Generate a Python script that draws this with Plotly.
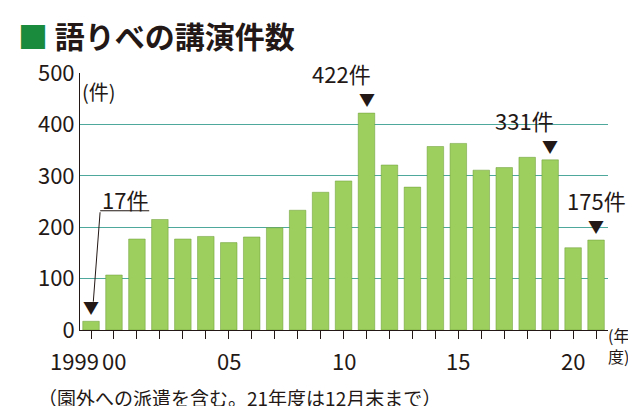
import plotly.graph_objects as go

years = list(range(1999, 2022))
counts = [17, 107, 177, 215, 177, 182, 170, 181, 199, 233, 268, 290, 422,
          321, 278, 357, 363, 311, 316, 336, 331, 160, 175]
xlabels = {1999: "1999", 2000: "00", 2005: "05", 2010: "10", 2015: "15", 2020: "20"}
callouts = {2011: "422件", 2019: "331件", 2021: "175件"}

font = "Noto Sans CJK JP"
ink = "#231815"

fig = go.Figure()
fig.add_trace(go.Bar(
    x=years, y=counts, width=0.72,
    marker=dict(color="#9ccf5e", line=dict(color="#6a9a35", width=0.5)),
))

ann = []
for yr, lab in xlabels.items():
    ann.append(dict(x=yr, y=0, yref="y", text=lab, showarrow=False,
                    xanchor="right" if yr == 1999 else "center",
                    xshift=10 if yr == 1999 else 0,
                    yshift=-30, font=dict(size=22, color=ink)))
for yr, lab in callouts.items():
    v = counts[years.index(yr)]
    ann.append(dict(x=yr, y=v, text="▼", showarrow=False, yanchor="bottom",
                    yshift=0, font=dict(size=16, color=ink)))
    ann.append(dict(x=yr, y=v, text=lab, showarrow=False, yanchor="bottom",
                    xanchor="right" if yr != 2021 else "center",
                    xshift=6 if yr != 2021 else 0,
                    yshift=22, font=dict(size=22, color=ink)))
ann.append(dict(x=1999, y=counts[0], text="▼", showarrow=False, yanchor="bottom",
                yshift=0, font=dict(size=16, color=ink)))
ann.append(dict(x=1999.4, y=255, text="17件", showarrow=False, xanchor="left",
                font=dict(size=22, color=ink)))
ann.append(dict(x=1999.4, y=232, ax=2001.6, ay=232, axref="x", ayref="y",
                text="", showarrow=True, arrowhead=0, arrowwidth=1, arrowcolor=ink))
ann.append(dict(x=1999.1, y=55, ax=1999.4, ay=232, axref="x", ayref="y",
                text="", showarrow=True, arrowhead=0, arrowwidth=1, arrowcolor=ink))
ann.append(dict(x=0.0, y=1.0, xref="paper", yref="paper", text="(件)",
                showarrow=False, xanchor="left", yanchor="top", yshift=-2,
                font=dict(size=20, color=ink)))
ann.append(dict(x=1.0, y=0.0, xref="paper", yref="paper", text="(年<br>度)",
                showarrow=False, xanchor="left", yanchor="bottom", xshift=-2, yshift=-40,
                font=dict(size=16, color=ink)))
ann.append(dict(x=0.0, y=1.0, xref="paper", yref="paper",
                text="<span style='color:#1a8a3c'>■</span> <b>語りべの講演件数</b>",
                showarrow=False, xanchor="left", yanchor="top", xshift=-64, yshift=62,
                font=dict(size=30, color=ink)))
ann.append(dict(x=0.0, y=0.0, xref="paper", yref="paper",
                text="（園外への派遣を含む。21年度は12月末まで）",
                showarrow=False, xanchor="left", yanchor="top", xshift=-44, yshift=-52,
                font=dict(size=19, color=ink)))

fig.update_layout(
    width=636, height=406, margin=dict(l=72, r=36, t=65, b=84),
    paper_bgcolor="white", plot_bgcolor="white", showlegend=False,
    font=dict(family=font, color=ink),
    annotations=ann,
    xaxis=dict(range=[1998.52, 2021.52], tickvals=years, ticktext=[""] * len(years),
               ticks="outside", ticklen=8, tickcolor=ink, showgrid=False,
               showline=True, linecolor=ink, linewidth=1),
    yaxis=dict(range=[0, 500], tickvals=[0, 100, 200, 300, 400, 500],
               tickfont=dict(size=22, color=ink), showgrid=True,
               gridcolor="#4fa89c", gridwidth=1, zeroline=False, ticks="",
               showline=True, linecolor=ink, linewidth=1),
)
fig.write_html("out.html")
